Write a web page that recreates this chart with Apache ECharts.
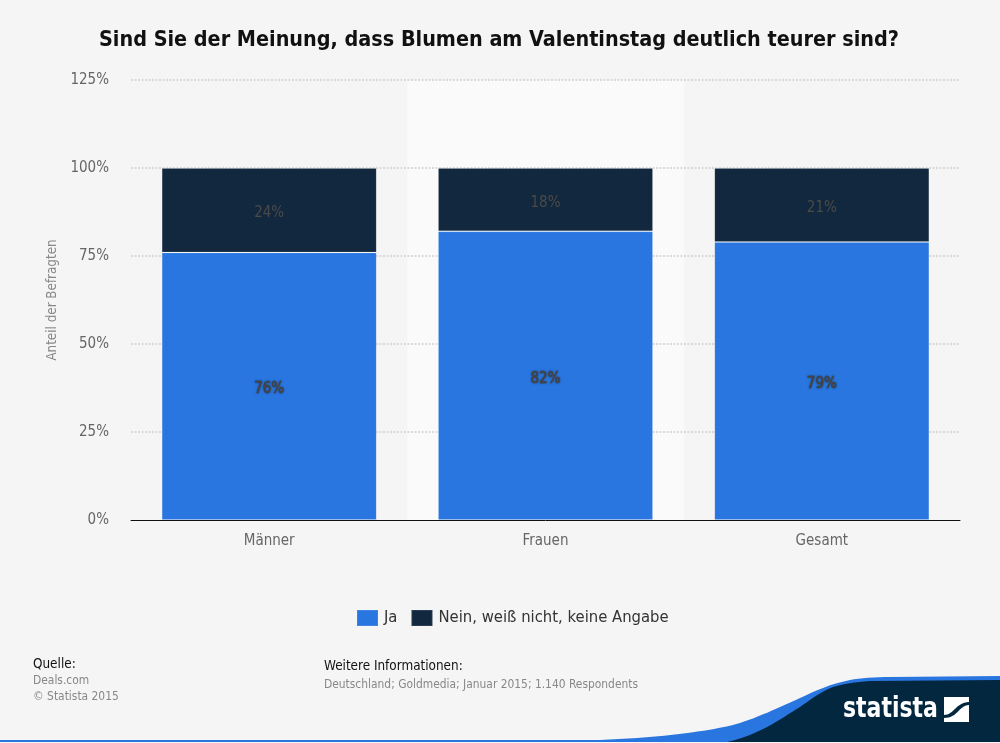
<!DOCTYPE html>
<html><head><meta charset="utf-8">
<style>html,body{margin:0;padding:0;background:#f5f5f5}#c{width:1000px;height:743px}</style>
<script src="https://cdn.jsdelivr.net/npm/echarts@6/dist/echarts.min.js"></script>
</head><body><div id="c"></div>
<script>
const titleText = 'Sind Sie der Meinung, dass Blumen am Valentinstag deutlich teurer sind?';
const categories = ['Männer', 'Frauen', 'Gesamt'];
const seriesNames = ['Ja', 'Nein, weiß nicht, keine Angabe'];
const jaValues = [76, 82, 79];
const neinValues = [24, 18, 21];
const yAxisName = 'Anteil der Befragten';
const yMax = 125;
const yStep = 25;
const sourceHead = 'Quelle:';
const sourceLines = ['Deals.com', '© Statista 2015'];
const infoHead = 'Weitere Informationen:';
const infoLine = 'Deutschland; Goldmedia; Januar 2015; 1.140 Respondents';
const brand = 'statista';

const FONT = '"DejaVu Sans Condensed","DejaVu Sans",sans-serif';
const chart = echarts.init(document.getElementById('c'), null, {renderer: 'canvas'});
const reg = (name, d) => echarts.graphic.registerShape(name, echarts.graphic.extendPath(d, {}));
reg('footBlue', 'M0 740 L600 740 C650 738 700 733 733 725 C750 721 785 705 800 698 C815 691 830 684 850 680 C860 678 875 677 890 677 L1000 676 L1000 742 L0 742 Z');
reg('footDark', 'M727 742 C745 738 755 733 767 727 C780 720 790 713 800 707 C810 700 820 692 833 687 C843 684 855 682 870 681 L1000 680 L1000 742 Z');
reg('logoCut', 'M944 715 C954 715 955 703 969 702 L969 705 C958 706 958 718 944 718 Z');
const txt = (x, y, text, size, fill, extra) => ({
  type: 'text', x, y, silent: true, z: 10,
  style: Object.assign({text, fontFamily: FONT, fontSize: size, fill, textVerticalAlign: 'middle'}, extra || {})
});
const barBorder = {borderColor: 'rgba(255,255,255,0.1)', borderWidth: 1};
chart.setOption({
  animation: false,
  backgroundColor: '#f5f5f5',
  color: ['#2976e0', '#12283e'],
  textStyle: {fontFamily: FONT},
  title: {
    text: titleText, left: 94, top: 25,
    textStyle: {fontFamily: FONT, fontSize: 21.4, fontWeight: 'bold', color: '#111'}
  },
  legend: {
    top: 604, left: 351, itemWidth: 21, itemHeight: 16, itemGap: 13,
    icon: 'rect', data: seriesNames,
    textStyle: {fontFamily: FONT, fontSize: 16.5, color: '#333', padding: [0, 0, 0, 1]}
  },
  grid: {left: 131, right: 40, top: 80, bottom: 223},
  xAxis: {
    type: 'category', data: categories, z: 0,
    axisLine: {lineStyle: {color: '#111', width: 1}},
    axisTick: {show: false},
    axisLabel: {color: '#666', fontSize: 15, margin: 14, fontFamily: FONT},
    splitArea: {show: true, areaStyle: {color: ['rgba(0,0,0,0)', '#fafafa']}}
  },
  yAxis: {
    type: 'value', min: 0, max: yMax, interval: yStep, z: 1,
    name: yAxisName, nameLocation: 'middle', nameGap: 71, nameRotate: 90,
    nameTextStyle: {color: '#888', fontSize: 13.3, fontFamily: FONT},
    axisLine: {show: false}, axisTick: {show: false},
    axisLabel: {color: '#666', fontSize: 15, margin: 22, fontFamily: FONT,
      padding: [0, 0, 4, 0], formatter: '{value}%'},
    splitLine: {showMinLine: false, lineStyle: {color: '#d0d0d0', type: [2, 1.5], width: 1.5}}
  },
  series: [
    {name: seriesNames[0], type: 'bar', stack: 'a', data: jaValues, barWidth: 215,
     itemStyle: barBorder,
     label: {show: true, position: 'inside', offset: [0, 3], formatter: '{c}%', fontFamily: FONT, fontSize: 15,
       color: '#444', textBorderColor: '#444', textBorderWidth: 0.5,
       textShadowColor: 'rgba(40,40,40,0.6)', textShadowBlur: 2}},
    {name: seriesNames[1], type: 'bar', stack: 'a', data: neinValues, barWidth: 215,
     itemStyle: barBorder,
     label: {show: true, position: 'inside', offset: [0, 3], formatter: '{c}%', fontFamily: FONT, fontSize: 15,
       color: '#4c4a48', textBorderWidth: 0}}
  ],
  graphic: [
    {type: 'footBlue', silent: true, z: 5, style: {fill: '#2976e0'}},
    {type: 'footDark', silent: true, z: 6, style: {fill: '#03273f'}},
    txt(33, 665, sourceHead, 13.4, '#111'),
    txt(33, 681, sourceLines[0], 11.9, '#888'),
    txt(33, 697, sourceLines[1], 11.9, '#888'),
    txt(324, 667, infoHead, 13.4, '#111'),
    txt(324, 685, infoLine, 11.9, '#888'),
    Object.assign(txt(843, 710, brand, 28, '#fff', {fontWeight: 'bold'}), {scaleX: 0.873}),
    {type: 'rect', silent: true, z: 10, shape: {x: 944, y: 697, width: 25, height: 25}, style: {fill: '#fff'}},
    {type: 'logoCut', silent: true, z: 11, style: {fill: '#03273f'}}
  ]
});
</script></body></html>
